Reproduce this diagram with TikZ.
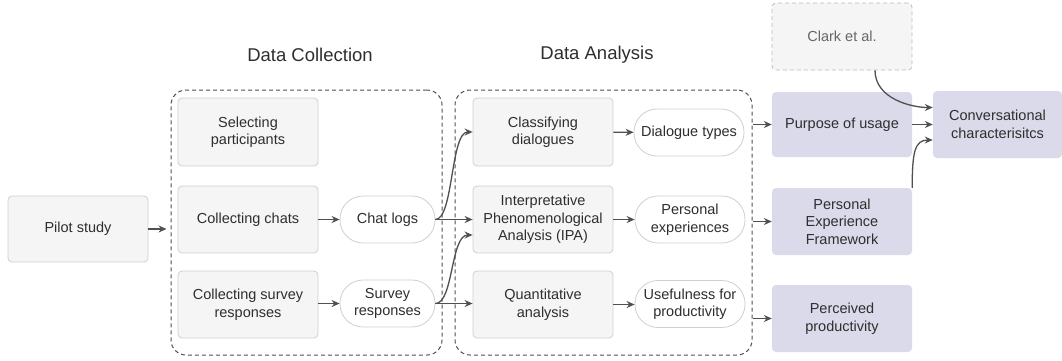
\documentclass[tikz,border=0pt]{standalone}
\usepackage{fontspec}
\setmainfont{Liberation Sans}
\usetikzlibrary{arrows.meta,positioning,calc}
\definecolor{txt}{HTML}{2E2E2E}
\definecolor{boxfill}{HTML}{F5F5F5}
\definecolor{boxline}{HTML}{D0D0D0}
\definecolor{lav}{HTML}{DADAEB}
\definecolor{arrc}{HTML}{505050}
\definecolor{clarkline}{HTML}{BBBBBB}
\definecolor{clarktxt}{HTML}{666666}
\begin{document}
\begin{tikzpicture}[x=1pt,y=-1pt,
  every node/.style={font=\fontsize{14.5}{17.5}\selectfont, text=txt, align=center, inner sep=2pt},
  procbox/.style={draw=boxline, fill=boxfill, rounded corners=4pt, minimum width=140pt, minimum height=67pt, line width=0.8pt},
  outbox/.style={draw=boxline, fill=white, rounded corners=23pt, minimum width=95pt, minimum height=47pt, line width=0.8pt},
  resbox/.style={fill=lav, rounded corners=4pt, minimum width=140pt, minimum height=66pt},
  groupbox/.style={draw=arrc, dashed, rounded corners=15pt, line width=1pt, dash pattern=on 4pt off 3pt},
  arr/.style={draw=arrc, line width=1.3pt, -{Stealth[length=8pt,width=7pt]}},
  title/.style={font=\fontsize{18.5}{22}\selectfont}
]
\useasboundingbox (0,0) rectangle (1062,360);

% group boxes
\node[groupbox, minimum width=271pt, minimum height=265pt] (dc) at (306.5,222.5) {};
\node[groupbox, minimum width=297pt, minimum height=265pt] (da) at (603.5,222.5) {};
\node[title] (tdc) at (310,55) {Data Collection};
\node[title] (tda) at (597,55) {Data Analysis};

% nodes
\node[procbox, minimum height=66pt] (pilot) at (78,229) {Pilot study};
\node[procbox, minimum height=68pt] (sel) at (248,132) {Selecting\\participants};
\node[procbox] (cchat) at (248,219.5) {Collecting chats};
\node[procbox] (csurv) at (248,304.5) {Collecting survey\\responses};
\node[outbox] (clog) at (387.5,219.5) {Chat logs};
\node[outbox] (sresp) at (387.5,303.5) {Survey\\responses};

\node[procbox, minimum height=68pt] (classif) at (543,132) {Classifying\\dialogues};
\node[procbox] (ipa) at (543,219.5) {Interpretative\\Phenomenological\\Analysis (IPA)};
\node[procbox] (quant) at (543,304.5) {Quantitative\\analysis};
\node[outbox, minimum width=110pt] (dtypes) at (689,132.5) {Dialogue types};
\node[outbox, minimum width=110pt] (pexp) at (690,219.5) {Personal\\experiences};
\node[outbox, minimum width=110pt] (useful) at (690,304) {Usefulness for\\productivity};

\node[procbox, draw=clarkline, dashed, dash pattern=on 4pt off 3pt, text=clarktxt] (clark) at (842,36.5) {Clark et al.};
\node[resbox, minimum height=65pt] (purpose) at (842,124.5) {Purpose of usage};
\node[resbox, minimum height=67pt] (pef) at (842,221.5) {Personal\\Experience\\Framework};
\node[resbox, minimum height=67pt] (perc) at (842,318.5) {Perceived\\productivity};
\node[resbox, minimum width=129pt, minimum height=67pt] (conv) at (997.5,124.5) {Conversational\\characterisitcs};

% connectors
\draw[arr, shorten >=4pt] (pilot.east) -- (pilot.east -| dc.west);
\draw[arr] (cchat) -- (clog);
\draw[arr] (csurv.east |- sresp.west) -- (sresp);
\draw[arr] (clog.east) -- (ipa.west |- clog.east);
\draw[arr] (clog.east) .. controls ++(18,0) and ($(classif.west)+(-22,0)$) .. (classif.west);
\draw[arr] (sresp.east) -- (quant.west |- sresp.east);
\draw[arr] (sresp.east) .. controls ++(18,0) and ($(ipa.west)+(-22,15.5)$) .. ($(ipa.west)+(0,15.5)$);
\draw[arr] (classif) -- (dtypes);
\draw[arr] (ipa) -- (pexp);
\draw[arr] (quant.east) -- (useful.west |- quant.east);
\draw[arr] (da.east |- purpose.west) -- (purpose.west);
\draw[arr] (da.east |- pef.west) -- (pef.west);
\draw[arr] (da.east |- perc.west) -- (perc.west);
\draw[arr] (purpose.east) -- (conv.west);
\draw[arr] ($(clark.south)+(33,0)$) .. controls ++(0,28) and ($(conv.west)+(-22,-17)$) .. ($(conv.west)+(0,-17)$);
\draw[arr] (pef.north east) .. controls ++(0,-36) and ($(conv.west)+(-18,15.5)$) .. ($(conv.west)+(0,15.5)$);
\end{tikzpicture}
\end{document}
